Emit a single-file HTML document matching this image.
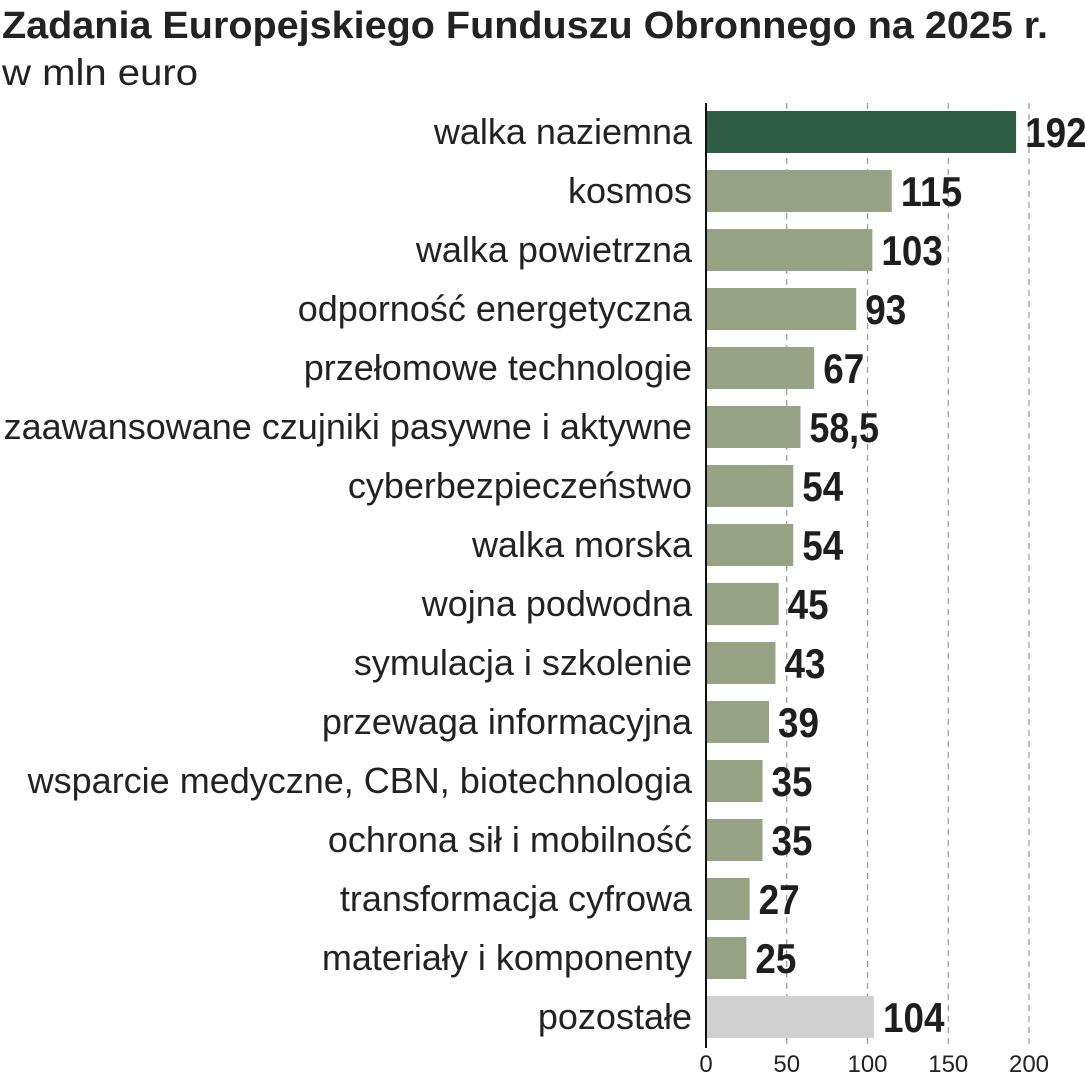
<!DOCTYPE html>
<html><head><meta charset="utf-8"><style>
html,body{margin:0;padding:0;background:#fff;width:1085px;height:1080px;overflow:hidden}
svg{display:block}
</style></head><body>
<svg id="chart" width="1085" height="1080" xmlns="http://www.w3.org/2000/svg">
<text x="2" y="38" font-family="Liberation Sans, sans-serif" font-weight="bold" font-size="38" fill="#222" textLength="1046" lengthAdjust="spacingAndGlyphs">Zadania Europejskiego Funduszu Obronnego na 2025 r.</text>
<text x="2" y="85" font-family="Liberation Sans, sans-serif" font-size="37" fill="#222" textLength="196" lengthAdjust="spacingAndGlyphs">w mln euro</text>
<g id="grid"></g><g id="bars"></g><g id="labels"></g><g id="ticks"></g>
</svg>
<script>
const categories = ["walka naziemna","kosmos","walka powietrzna","odporność energetyczna","przełomowe technologie","zaawansowane czujniki pasywne i aktywne","cyberbezpieczeństwo","walka morska","wojna podwodna","symulacja i szkolenie","przewaga informacyjna","wsparcie medyczne, CBN, biotechnologia","ochrona sił i mobilność","transformacja cyfrowa","materiały i komponenty","pozostałe"];
const values = [192,115,103,93,67,58.5,54,54,45,43,39,35,35,27,25,104];
const valueLabels = ["192","115","103","93","67","58,5","54","54","45","43","39","35","35","27","25","104"];
const tickValues = [0,50,100,150,200];
const NS="http://www.w3.org/2000/svg";
const x0=706, pxPer=(1029-706)/200;
function xs(v){return x0+v*pxPer;}
function yc(i){return 132+i*59;}
function mk(tag,attrs,parent){const e=document.createElementNS(NS,tag);for(const k in attrs)e.setAttribute(k,attrs[k]);document.getElementById(parent).appendChild(e);return e;}
tickValues.forEach((t,i)=>{
  if(t>0){const g=mk('line',{x1:xs(t),x2:xs(t),y1:103,y2:1046,stroke:'#999','stroke-width':1.2,'stroke-dasharray':'6,5'},'grid');
  
  }
  const tl=mk('text',{x:xs(t),y:1072,'text-anchor':'middle','font-family':'Liberation Sans, sans-serif','font-size':24,fill:'#222'},'ticks');
  tl.textContent=t;
  
  
});
values.forEach((v,i)=>{
  const fill=i===0?'#2e5c44':(i===categories.length-1?'#d0d0d0':'#97a285');
  const b=mk('rect',{x:x0,y:yc(i)-21,width:xs(v)-x0,height:42,fill:fill},'bars');
  
  
  const c=mk('text',{x:692,y:yc(i)+12,'text-anchor':'end','font-family':'Liberation Sans, sans-serif','font-size':36,fill:'#222'},'labels');
  c.textContent=categories[i];
  
  
  const s=valueLabels[i];
  const digits=s.replace(/[^0-9]/g,'').length, commas=s.length-digits;
  const vl=mk('text',{x:xs(v)+9,y:yc(i)+15,'font-family':'Liberation Sans, sans-serif','font-weight':'bold','font-size':42,fill:'#1e1e1e',textLength:digits*20.5+commas*8,lengthAdjust:'spacingAndGlyphs'},'labels');
  vl.textContent=s;
  
  
});
const ax=mk('line',{x1:x0,x2:x0,y1:103,y2:1048,stroke:'#111','stroke-width':2},'ticks');


</script>
</body></html>
